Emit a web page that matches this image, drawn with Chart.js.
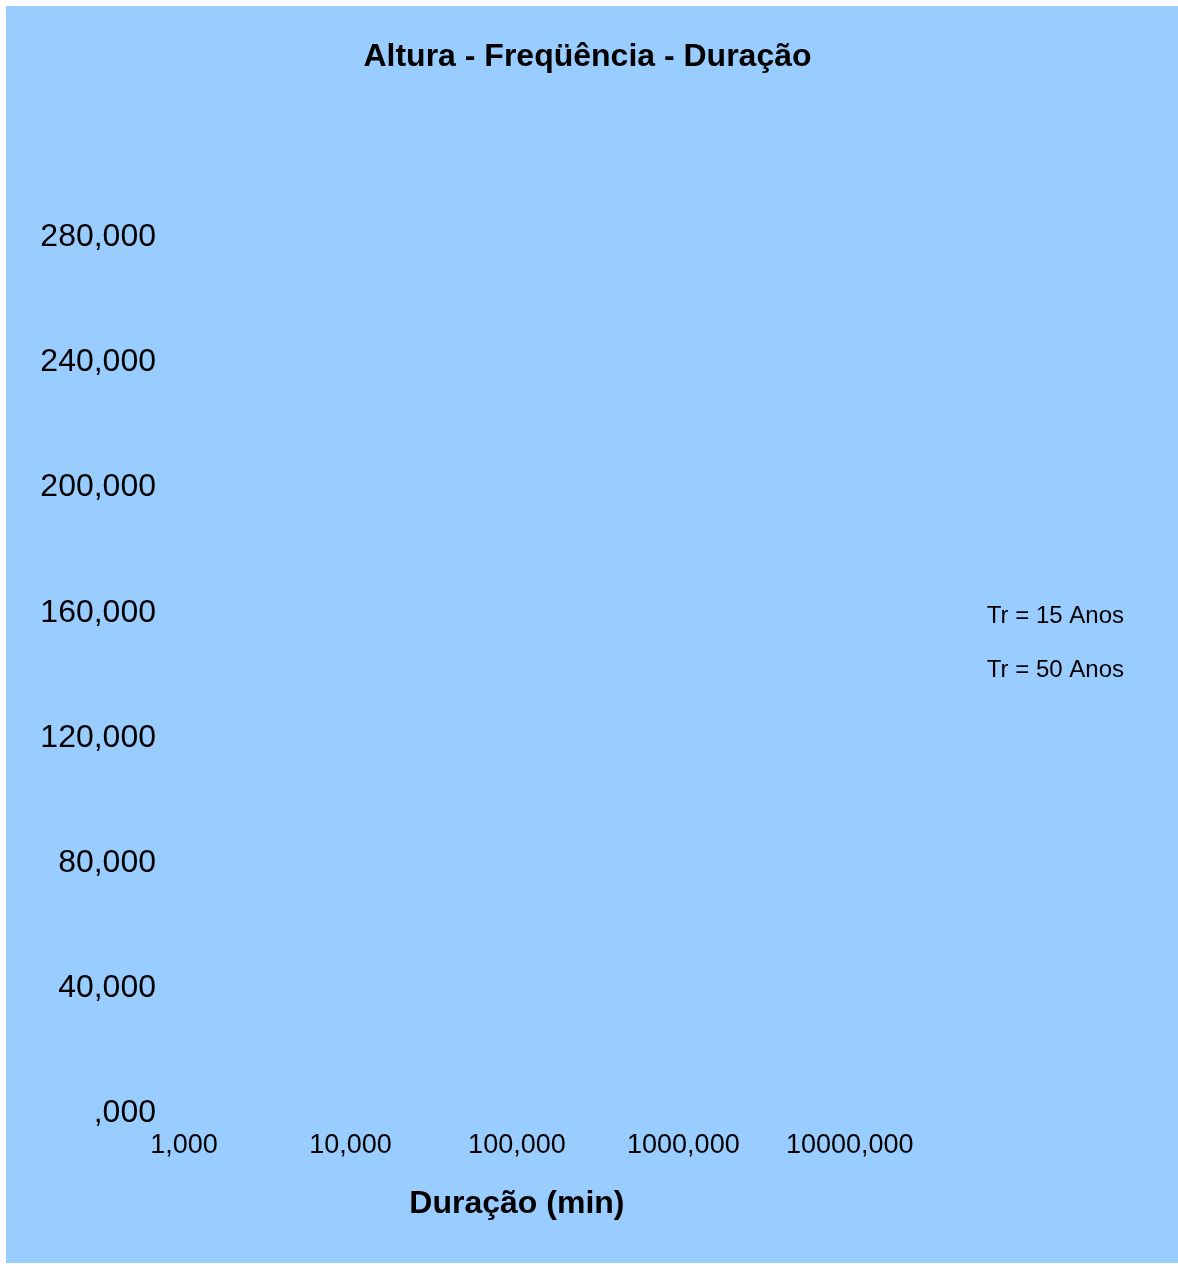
<!DOCTYPE html>
<html>
<head>
<meta charset="utf-8">
<script src="https://cdn.jsdelivr.net/npm/chart.js@4/dist/chart.umd.min.js"></script>
<style>
  html, body { margin: 0; padding: 0; background: #fff; }
  #panel {
    position: absolute;
    left: 6px;
    top: 6px;
    width: 1172px;
    height: 1257px;
    background: #99ccff;
  }
</style>
</head>
<body>
<div id="panel">
  <canvas id="chart" width="1172" height="1257"></canvas>
</div>
<script>
// chart data (nothing is plotted in the source picture, only axes and legend)
const seriesNames = ['Tr = 15 Anos', 'Tr = 50 Anos']
const tr15Values = []
const tr50Values = []

const xTickValues = [1, 10, 100, 1000, 10000]
const xTickLabels = ['1,000', '10,000', '100,000', '1000,000', '10000,000']
const yTickValues = [0, 40, 80, 120, 160, 200, 240, 280]
const yTickLabels = [',000', '40,000', '80,000', '120,000', '160,000', '200,000', '240,000', '280,000']

const FONT = "'Liberation Sans', Arial, sans-serif"

const ctx = document.getElementById('chart').getContext('2d')

new Chart(ctx, {
  type: 'line',
  data: {
    datasets: [
      {
        label: seriesNames[0],
        data: tr15Values,
        borderColor: '#000080',
        backgroundColor: 'rgba(0,0,0,0)',
        borderWidth: 0,
        pointRadius: 0
      },
      {
        label: seriesNames[1],
        data: tr50Values,
        borderColor: '#ff00ff',
        backgroundColor: 'rgba(0,0,0,0)',
        borderWidth: 0,
        pointRadius: 0
      }
    ]
  },
  options: {
    responsive: false,
    animation: false,
    layout: {
      padding: { left: 35, right: 44, top: 17, bottom: 0 }
    },
    plugins: {
      title: {
        display: true,
        text: 'Altura - Freqüência - Duração',
        color: '#000',
        font: { family: FONT, size: 32, weight: 'bold' },
        padding: { top: 15, bottom: 161 }
      },
      legend: {
        position: 'right',
        maxWidth: 400,
        labels: {
          color: '#000',
          font: { family: FONT, size: 24 },
          boxWidth: 115,
          boxHeight: 44,
          padding: 10,
          generateLabels: function(chart) {
            return chart.data.datasets.map((ds, i) => ({
              text: ds.label,
              fillStyle: 'rgba(0,0,0,0)',
              strokeStyle: 'rgba(0,0,0,0)',
              lineWidth: 0,
              hidden: false,
              datasetIndex: i,
              fontColor: '#000'
            }))
          }
        }
      },
      tooltip: { enabled: false }
    },
    scales: {
      x: {
        type: 'logarithmic',
        min: xTickValues[0],
        max: xTickValues[xTickValues.length - 1],
        afterBuildTicks: function(axis) {
          axis.ticks = xTickValues.map(v => ({ value: v }))
        },
        ticks: {
          color: '#000',
          font: { family: FONT, size: 27 },
          padding: 16,
          maxRotation: 0,
          autoSkip: false,
          callback: function(value) {
            const i = xTickValues.indexOf(value)
            return i >= 0 ? xTickLabels[i] : ''
          }
        },
        grid: { display: false, drawTicks: false, tickLength: 0 },
        border: { display: false },
        title: {
          display: true,
          text: 'Duração (min)',
          color: '#000',
          font: { family: FONT, size: 32, weight: 'bold' },
          padding: { top: 7, bottom: 40 }
        }
      },
      y: {
        min: yTickValues[0],
        max: yTickValues[yTickValues.length - 1],
        afterBuildTicks: function(axis) {
          axis.ticks = yTickValues.map(v => ({ value: v }))
        },
        afterFit: function(axis) {
          axis.width = 143
        },
        ticks: {
          color: '#000',
          font: { family: FONT, size: 32 },
          padding: 28,
          callback: function(value) {
            const i = yTickValues.indexOf(value)
            return i >= 0 ? yTickLabels[i] : ''
          }
        },
        grid: { display: false, drawTicks: false, tickLength: 0 },
        border: { display: false }
      }
    }
  }
})
</script>
</body>
</html>
